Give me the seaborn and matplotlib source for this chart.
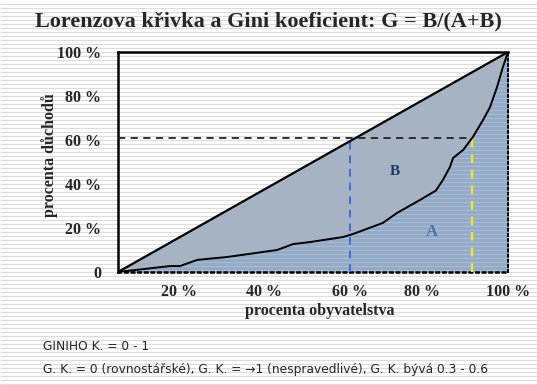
import numpy as np
import pandas as pd
import seaborn as sns
import matplotlib.pyplot as plt

# data (percent of population, percent of income)
pop_pct = [0, 13.3, 15.9, 20.3, 27.9, 40.8, 44.9, 49.2, 57.7, 60.3, 67.9, 71.5,
           77.4, 81.5, 83.3, 85.1, 85.9, 88.5, 91.0, 93.6, 95.4, 97.2, 98.7, 100]
income_pct = [0, 2.7, 2.7, 5.5, 6.8, 10.0, 12.7, 13.6, 15.9, 17.3, 22.3, 26.8,
              32.7, 37.0, 41.8, 47.7, 51.8, 55.5, 61.4, 69.1, 75.0, 84.1, 93.2, 100]
equality = [0, 100]

x_tick_pos = [15.6, 37.4, 59.5, 78.0, 100]
x_tick_labels = ["20 %", "40 %", "60 %", "80 %", "100 %"]
y_tick_pos = [0, 20, 40, 60, 80, 100]
y_tick_labels = ["0", "20 %", "40 %", "60 %", "80 %", "100 %"]

mid_x = 59.5      # blue guide
high_x = 90.8     # yellow guide
level_y = 61.0    # horizontal guide

df = pd.DataFrame({"pop": pop_pct, "income": income_pct})
diag = pd.DataFrame({"pop": equality, "income": equality})

sns.set_style("white")
plt.rcParams['font.family'] = ['Liberation Serif', 'DejaVu Serif']

fig = plt.figure(figsize=(5.37, 3.85), dpi=100)

# striped background
bg = fig.add_axes([0, 0, 1, 1], zorder=-5)
bg.set_xlim(0, 537)
bg.set_ylim(0, 385)
bg.axis("off")
bg.hlines(np.arange(1.5, 385, 4), 0, 537, color="#dcdcdc", lw=0.9)

ax = fig.add_axes([118 / 537, 113 / 385, 390 / 537, 220 / 385])
ax.patch.set_alpha(0)

# area B (between equality line and curve)
ax.fill_between(diag["pop"], diag["income"], 0, color="#a5b3c2", zorder=1)
# area A (under curve)
poly = ax.fill_between(df["pop"], df["income"], 0, color="#93abc7", zorder=2)
stripes = ax.hlines(np.arange(0.9, 100, 1.82), 0, 100, color="#a9bcd2", lw=0.8, zorder=2.5)
stripes.set_clip_path(poly.get_paths()[0], transform=ax.transData)

sns.lineplot(data=diag, x="pop", y="income", color="black", lw=1.6, ax=ax, zorder=5)
sns.lineplot(data=df, x="pop", y="income", color="black", lw=1.4, ax=ax, zorder=5,
             estimator=None, sort=False)

# guide lines
ax.plot([0, high_x], [level_y, level_y], color="#222222", ls=(0, (4, 3)), lw=1.3, zorder=4)
ax.plot([mid_x, mid_x], [0, 60], color="#3d6be0", ls=(0, (4, 3)), lw=1.4, zorder=4)
ax.plot([high_x, high_x], [0, level_y], color="#f2ea1c", ls=(0, (4, 3)), lw=1.6, zorder=4)

ax.text(71, 45.5, "B", color="#1f3864", fontsize=11, fontweight="bold", ha="center", va="center")
ax.text(80.5, 18.2, "A", color="#4a72aa", fontsize=12, fontweight="bold", ha="center", va="center")

ax.set_xlim(0, 100)
ax.set_ylim(0, 100)
ax.set_xticks(x_tick_pos)
ax.set_xticklabels(x_tick_labels, fontsize=11.5, fontweight="bold")
ax.set_yticks(y_tick_pos)
ax.set_yticklabels(y_tick_labels, fontsize=11.5, fontweight="bold")
ax.tick_params(axis="x", direction="out", length=6, width=1.8, pad=3)
ax.tick_params(axis="y", direction="in", length=11, width=1.8, pad=12)

for s in ["left", "top"]:
    ax.spines[s].set_linewidth(1.8)
    ax.spines[s].set_color("black")
ax.spines["bottom"].set_linewidth(1.8)
ax.spines["bottom"].set_linestyle(":")
ax.spines["bottom"].set_color("black")
ax.spines["right"].set_linewidth(1.4)
ax.spines["right"].set_linestyle(":")
ax.spines["right"].set_color("black")

ax.set_xlabel("procenta obyvatelstva", fontsize=11.5, fontweight="bold")
ax.set_ylabel("procenta důchodů", fontsize=11.5, fontweight="bold")
ax.xaxis.set_label_coords(0.518, -0.14)
ax.yaxis.set_label_coords(-0.155, 0.53)

fig.text(0.5, 0.945, "Lorenzova křivka a Gini koeficient: G = B/(A+B)",
         ha="center", va="center", fontsize=16, fontweight="bold")

fig.text(43 / 537, 1 - 346 / 385, "GINIHO K. = 0 - 1", fontsize=8.8,
         family=["DejaVu Sans"], va="center")
fig.text(43 / 537, 1 - 370 / 385,
         "G. K. = 0 (rovnostářské), G. K. = \u21921 (nespravedlivé), G. K. bývá 0.3 - 0.6",
         fontsize=8.8, family=["DejaVu Sans"], va="center")

fig.savefig("out.png", dpi=100)
